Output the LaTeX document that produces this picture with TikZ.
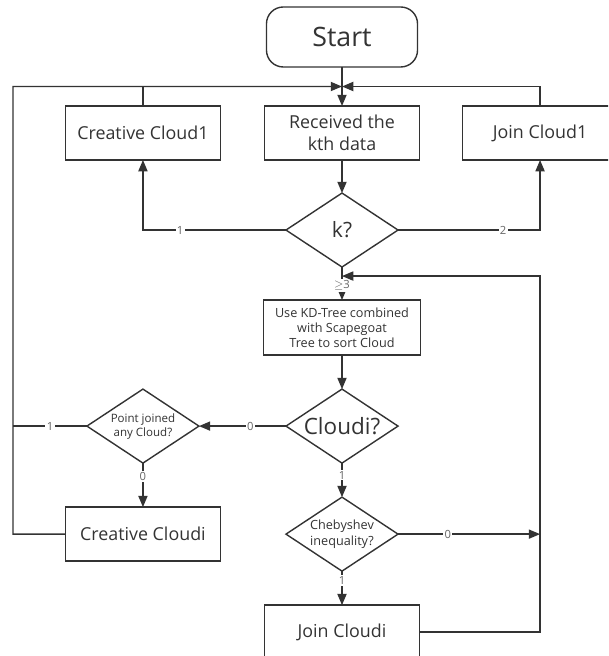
\documentclass[tikz,border=0pt]{standalone}
\usepackage{fontspec}
\setmainfont{Open Sans}
\usepackage{xcolor}
\usepackage{tikz}
\usetikzlibrary{shapes.geometric,arrows.meta,positioning,calc}

\definecolor{ink}{HTML}{333333}
\definecolor{labgray}{HTML}{666666}

\begin{document}
\begin{tikzpicture}[
    x=0.025cm, y=0.025cm,
    node distance=0.85cm,
    box/.style={rectangle, draw=ink, line width=1pt, outer sep=0pt, text=ink, minimum width=3.875cm, minimum height=1.35cm, align=center, font=\fontsize{12.7}{15.8}\selectfont},
    term/.style={box, rounded corners=0.42cm, minimum width=3.775cm, minimum height=1.5cm, font=\fontsize{19}{22}\selectfont},
    decision/.style={diamond, aspect=1.5, draw=ink, line width=1pt, outer sep=0pt, text=ink, inner sep=-2pt, minimum width=2.8cm, minimum height=1.85cm, align=center},
    edge/.style={-{Triangle[length=8pt,width=6.5pt]}, line width=1pt, draw=ink},
    link/.style={line width=1pt, draw=ink},
    lbl/.style={fill=white, text=labgray, inner sep=1pt, font=\fontsize{8}{9}\selectfont}
]
    \clip (0,0) rectangle (608,656);

    % main column
    \node[term] (start) at (342,619) {Start};
    \node[box, below=0.975cm of start] (recv) {Received the\\kth data};
    \node[decision, below=0.825cm of recv, font=\fontsize{15}{18}\selectfont] (k) {k?};
    \node[box, below=0.825cm of k, minimum width=3.925cm, minimum height=1.375cm, font=\fontsize{9}{10.6}\selectfont] (kd) {Use KD-Tree combined\\with Scapegoat\\Tree to sort Cloud};
    \node[decision, below=0.85cm of kd, font=\fontsize{16}{19}\selectfont] (cloudi) {Cloudi?};
    \node[decision, below=0.85cm of cloudi, font=\fontsize{9}{11.8}\selectfont] (cheb) {Chebyshev\\inequality?};
    \node[box, below=0.85cm of cheb] (jci) {Join Cloudi};

    % side nodes
    \node[box, left=1.1cm of recv] (cc1) {Creative Cloud1};
    \node[box, right=1.075cm of recv] (jc1) {Join Cloud1};
    \node[decision, left=2.175cm of cloudi, font=\fontsize{8.2}{10}\selectfont] (pj) {Point joined\\any Cloud?};
    \node[box, below=1.1cm of pj] (cci) {Creative Cloudi};

    % helper points
    \coordinate (jn) at ($(start.south)!0.5!(recv.north)$);
    \coordinate (lft) at (13,569.5);
    \coordinate (ret) at ($(k.south)+(0,-9)$);
    \coordinate (rgt) at (jc1.south |- ret);

    % top loop
    \draw[edge] (start) -- (recv);
    \draw[edge] (cci.west) -| (lft) -- (jn);
    \draw[link] (cc1.north) -- (cc1.north |- jn);
    \draw[edge] (jc1.north) |- (jn);

    % k? branches
    \draw[edge] (recv) -- (k);
    \draw[edge] (k.west) -| node[lbl, pos=0.37] {1} (cc1.south);
    \draw[edge] (k.east) -| node[lbl, pos=0.37] {2} (jc1.south);
    \draw[edge] (k.south) -- node[lbl, pos=0.55] {$\geq$3} (kd.north);

    % cloud part
    \draw[edge] (kd) -- (cloudi);
    \draw[edge] (cloudi.west) -- node[lbl, pos=0.41] {0} (pj.east);
    \draw[edge] (cloudi.south) -- node[lbl, pos=0.35] {1} (cheb.north);
    \draw[edge] (pj.south) -- node[lbl, pos=0.3] {0} (cci.north);
    \draw[link] (pj.west) -- node[lbl] {1} (pj.west -| lft);
    \draw[edge] (cheb.east) -- node[lbl, pos=0.35] {0} (cheb.east -| rgt);
    \draw[edge] (cheb.south) -- node[lbl, pos=0.27] {1} (jci.north);
    \draw[edge] (jci.east) -| (rgt) -- (ret);
\end{tikzpicture}
\end{document}
